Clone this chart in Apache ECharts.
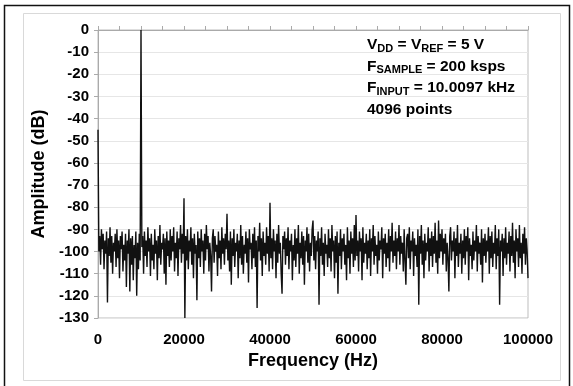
<!DOCTYPE html>
<html>
<head>
<meta charset="utf-8">
<script src="https://cdn.jsdelivr.net/npm/echarts@6/dist/echarts.min.js"></script>
<style>
  html, body { margin: 0; padding: 0; background: #fff; }
  #chart { width: 573px; height: 386px; }
</style>
</head>
<body>
<div id="chart"></div>
<script>
// FFT bins, one value every 200 Hz (dB)
const binStep = 200
const amp0to10k = [-45, -100, -93, -106, -90, -99, -92, -108, -95, -101,
  -91, -123, -94, -102, -89, -105, -93, -110, -96, -100,
  -92, -107, -90, -103, -95, -112, -93, -99, -91, -109,
  -97, -104, -92, -116, -95, -101, -90, -118, -94, -106,
  -93, -113, -97, -103, -91, -120, -96, -108, -92, -104]
const amp10kto20k = [0, -98, -93, -110, -91, -102, -95, -107, -89, -100,
  -94, -111, -92, -104, -97, -108, -90, -101, -95, -113,
  -93, -103, -88, -106, -96, -99, -92, -110, -94, -115,
  -91, -102, -95, -107, -90, -104, -93, -100, -89, -109,
  -96, -103, -91, -111, -94, -99, -88, -105, -92, -101]
const amp20kto30k = [-76, -130, -93, -104, -90, -108, -95, -100, -89, -106,
  -94, -112, -92, -101, -97, -122, -91, -103, -94, -107,
  -90, -100, -95, -110, -92, -104, -88, -99, -93, -109,
  -96, -102, -118, -94, -90, -105, -93, -100, -97, -111,
  -91, -103, -95, -108, -89, -101, -94, -106, -92, -99]
const amp30kto40k = [-83, -104, -95, -109, -91, -115, -94, -102, -90, -107,
  -96, -100, -92, -112, -95, -103, -88, -106, -93, -110,
  -97, -101, -91, -105, -94, -114, -90, -99, -96, -108,
  -92, -103, -89, -107, -95, -125.5, -93, -100, -87, -104,
  -94, -111, -91, -102, -96, -106, -89, -101, -93, -109]
const amp40kto50k = [-78, -103, -94, -108, -90, -100, -95, -112, -92, -105,
  -88, -101, -96, -110, -119, -93, -99, -91, -106, -94,
  -102, -89, -108, -95, -100, -92, -113, -97, -104, -90,
  -107, -94, -101, -88, -110, -96, -103, -91, -106, -93,
  -115, -95, -100, -89, -105, -92, -109, -96, -102, -90]
const amp50kto60k = [-86, -104, -93, -108, -95, -100, -91, -124, -94, -102,
  -89, -106, -96, -111, -92, -101, -97, -107, -90, -103,
  -94, -109, -88, -100, -95, -112, -93, -105, -91, -119,
  -96, -102, -90, -108, -94, -100, -92, -106, -97, -113,
  -89, -103, -95, -110, -91, -101, -94, -107, -88, -104]
const amp60kto70k = [-83.5, -102, -95, -109, -91, -100, -94, -113, -89, -105,
  -96, -101, -92, -108, -95, -103, -90, -111, -94, -100,
  -88, -106, -93, -102, -97, -110, -91, -104, -95, -99,
  -89, -112, -94, -101, -92, -107, -96, -103, -90, -109,
  -93, -100, -87, -105, -95, -102, -91, -108, -94, -100]
const amp70kto80k = [-88, -106, -93, -101, -96, -109, -90, -104, -115, -94,
  -92, -103, -89, -108, -95, -100, -91, -111, -94, -102,
  -97, -107, -90, -124, -93, -101, -88, -106, -95, -112,
  -92, -104, -96, -100, -89, -109, -94, -102, -91, -107,
  -93, -101, -87, -105, -95, -110, -86, -103, -92, -100]
const amp80kto90k = [-90, -106, -94, -101, -92, -109, -96, -103, -118, -93,
  -89, -104, -95, -100, -91, -112, -94, -102, -88, -107,
  -96, -101, -92, -110, -95, -103, -90, -106, -93, -100,
  -89, -113, -94, -102, -97, -108, -91, -104, -95, -100,
  -88, -109, -93, -101, -96, -106, -90, -114, -94, -102]
const amp90kto100k = [-92, -105, -95, -100, -89, -110, -93, -103, -91, -107,
  -96, -101, -88, -108, -94, -102, -90, -124, -95, -100,
  -92, -111, -94, -103, -89, -106, -96, -101, -91, -109,
  -93, -102, -87, -105, -95, -112, -90, -100, -94, -107,
  -88, -103, -96, -110, -92, -101, -89, -106, -94, -100,
  -112]

const yTicks = [0, -10, -20, -30, -40, -50, -60, -70, -80, -90, -100, -110, -120, -130]
const xLabels = [0, 20000, 40000, 60000, 80000, 100000]

const amplitude = [].concat(amp0to10k, amp10kto20k, amp20kto30k, amp30kto40k, amp40kto50k,
  amp50kto60k, amp60kto70k, amp70kto80k, amp80kto90k, amp90kto100k)
const points = amplitude.map((v, i) => [i * binStep, v])

const FONT = '"Liberation Sans", Arial, sans-serif'
const chart = echarts.init(document.getElementById('chart'))

chart.setOption({
  animation: false,
  backgroundColor: '#fff',
  textStyle: { fontFamily: FONT },
  grid: {
    left: 98, right: 45, top: 30, bottom: 68,
    show: true, borderColor: '#bdbdbd', borderWidth: 1
  },
  xAxis: {
    type: 'value',
    min: 0, max: 100000, interval: 5000,
    name: 'Frequency (Hz)',
    nameLocation: 'middle',
    nameGap: 34,
    nameTextStyle: { fontSize: 18, fontWeight: 'bold', color: '#000', fontFamily: FONT },
    axisLine: { lineStyle: { color: '#aaa' } },
    axisTick: { inside: true, length: 4, lineStyle: { color: '#aaa' } },
    splitLine: { show: false },
    axisLabel: {
      margin: 14, fontSize: 15, fontWeight: 'bold', color: '#000', fontFamily: FONT,
      formatter: v => xLabels.includes(v) ? String(v) : ''
    }
  },
  yAxis: {
    type: 'value',
    min: -130, max: 0, interval: 10,
    name: 'Amplitude (dB)',
    nameLocation: 'middle',
    nameGap: 47,
    nameTextStyle: { fontSize: 18, fontWeight: 'bold', color: '#000', fontFamily: FONT },
    axisLine: { show: true, lineStyle: { color: '#aaa' } },
    axisTick: { show: true, length: 4, lineStyle: { color: '#aaa' } },
    splitLine: { lineStyle: { color: '#e6e6e6' } },
    axisLabel: {
      margin: 9, fontSize: 15, fontWeight: 'bold', color: '#000', fontFamily: FONT,
      formatter: v => yTicks.includes(v) ? String(v) : ''
    }
  },
  graphic: [
    { type: 'rect', shape: { x: 4.5, y: 5.5, width: 565, height: 400 },
      style: { fill: null, stroke: '#111', lineWidth: 1.5 }, silent: true },
    { type: 'rect', shape: { x: 23.5, y: 13.5, width: 537, height: 367 },
      style: { fill: null, stroke: '#d9d9d9', lineWidth: 1 }, silent: true },
    {
      type: 'text', left: 367, top: 34, silent: true,
      style: {
        text: '{m|V}{s|DD}{m| = V}{s|REF}{m| = 5 V}\n{m|F}{s|SAMPLE}{m| = 200 ksps}\n{m|F}{s|INPUT}{m| = 10.0097 kHz}\n{m|4096 points}',
        lineHeight: 21.5,
        rich: {
          m: { fontSize: 15.5, fontWeight: 'bold', fill: '#000', fontFamily: FONT, lineHeight: 21.5 },
          s: { fontSize: 11, fontWeight: 'bold', fill: '#000', fontFamily: FONT, lineHeight: 21.5, padding: [8, 0, 0, 0] }
        }
      }
    }
  ],
  series: [{
    type: 'line',
    data: points,
    showSymbol: false,
    symbol: 'none',
    sampling: null,
    lineStyle: { color: '#111', width: 1.4 },
    z: 3
  }]
})
</script>
</body>
</html>
